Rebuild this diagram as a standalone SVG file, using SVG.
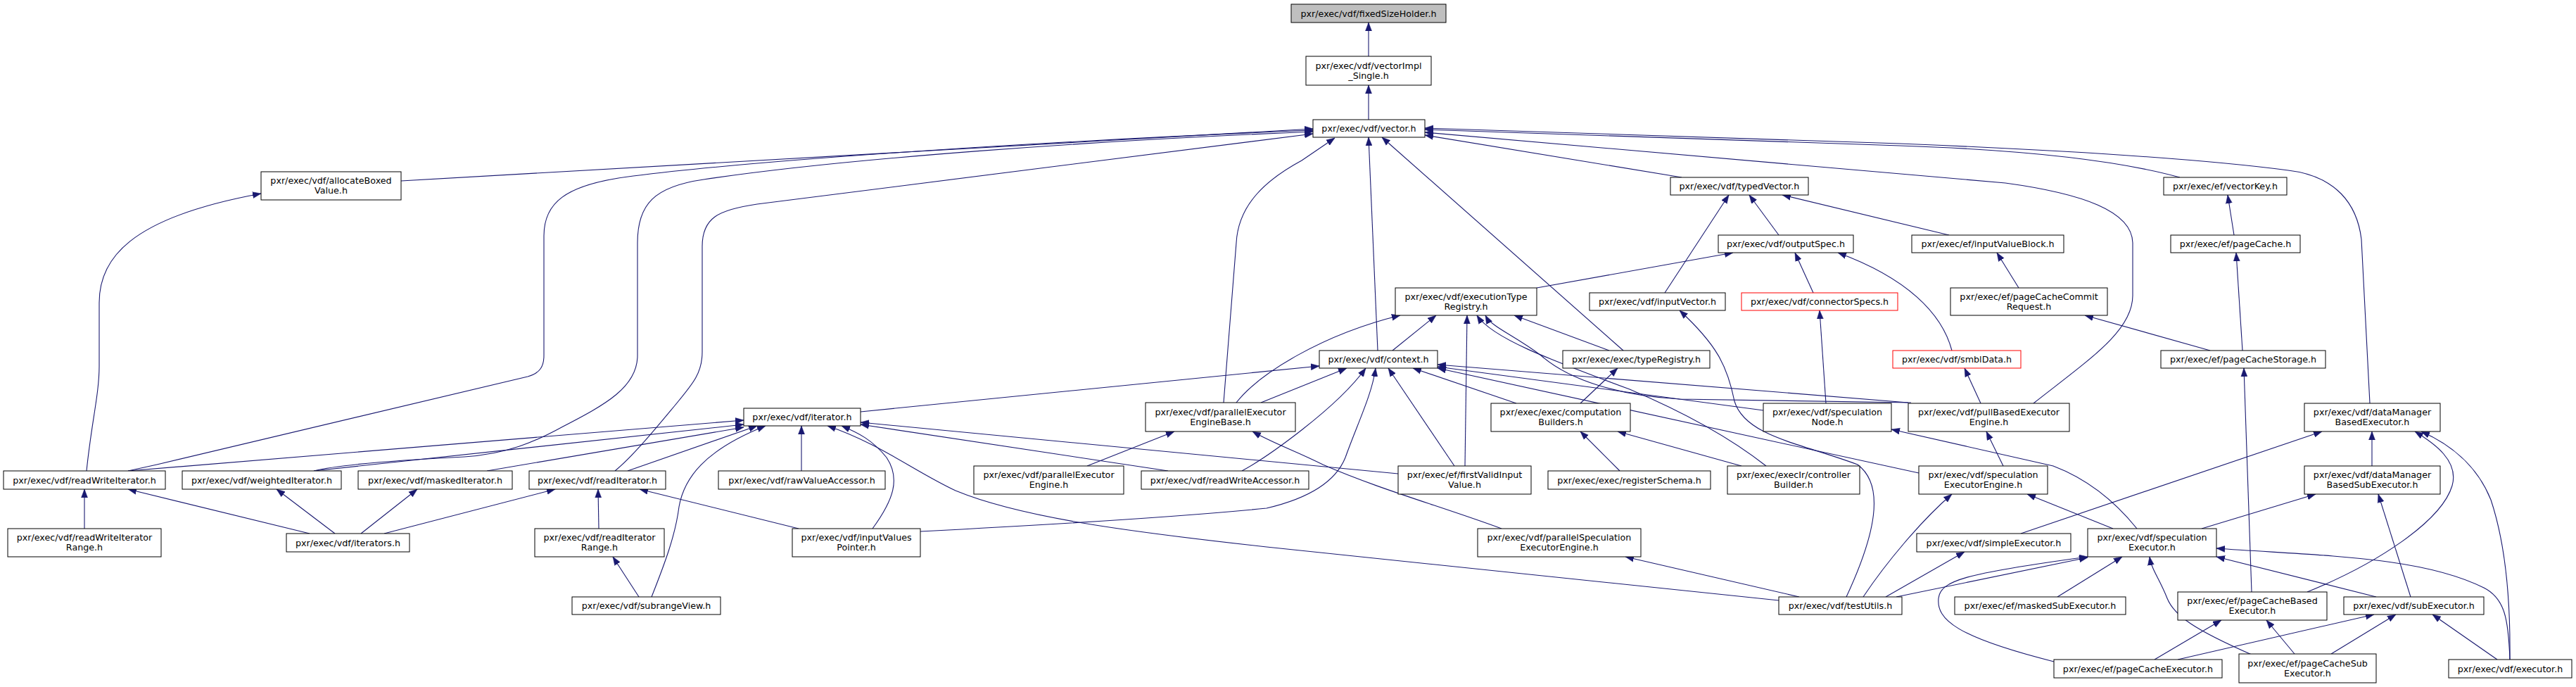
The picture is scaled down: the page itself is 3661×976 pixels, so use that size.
<svg xmlns="http://www.w3.org/2000/svg" width="3661" height="976" viewBox="0 0 3661 976">
<style>
.node rect{fill:#fff;stroke:#000;stroke-width:1}
.root rect{fill:#bfbfbf}
.trunc rect{stroke:#ff0000}
text{font-family:"DejaVu Sans",sans-serif;font-size:12.7px;text-anchor:middle;fill:#000}
#edges path{fill:none;stroke:#191970;stroke-width:1.1;marker-end:url(#ah)}
</style>
<defs>
<marker id="ah" markerWidth="12" markerHeight="10" refX="12" refY="5" orient="auto" markerUnits="userSpaceOnUse"><path d="M0,0.5 L12,5 L0,9.5 z" fill="#191970" stroke="#191970" stroke-width="0.5"/></marker>
</defs>
<rect width="3661" height="976" fill="#fff"/>
<g id="edges">
<path d="M1945,80 L1945,32"/>
<path d="M1945,170 L1945,121"/>
<path d="M570,257 L1866,183"/>
<path d="M182,669 L223,660 L750,535 C768,530 773,520 773,505 L773,335 C773,290 800,262 900,250 C1100,225 1500,200 1866,185"/>
<path d="M446,669 C490,658 600,652 660,649 C720,645 760,628 800,606 C860,575 906,550 906,505 L906,345 C906,290 930,265 1000,255 C1200,225 1550,200 1866,187"/>
<path d="M874,669 C900,648 935,605 960,575 C985,545 998,530 998,500 L998,350 C998,310 1020,298 1076,290 L1866,190"/>
<path d="M1739,572 L1757,345 C1760,290 1800,255 1850,228 L1897,196"/>
<path d="M1958,498 L1945,195"/>
<path d="M2307,498 L1964,195"/>
<path d="M2390,252 L2025,192"/>
<path d="M2890,573 C2970,510 3031,470 3031,420 L3031,345 C3030,300 2960,275 2850,260 L2025,188"/>
<path d="M3098,252 C3000,225 2850,212 2700,207 L2025,184"/>
<path d="M3368,573 L3356,340 C3350,290 3320,250 3252,242 C3100,222 2850,210 2700,204 L2025,182"/>
<path d="M2528,334 L2486,277"/>
<path d="M2366,416 L2457,277"/>
<path d="M2770,334 L2533,277"/>
<path d="M2184,409 L2463,359"/>
<path d="M2577,416 L2551,359"/>
<path d="M2774,498 C2760,445 2710,395 2612,359"/>
<path d="M3175,334 L3166,277"/>
<path d="M2869,409 L2838,359"/>
<path d="M3187,498 L3178,359"/>
<path d="M3141,498 L2963,448"/>
<path d="M1979,498 L2041,448"/>
<path d="M2287,498 L2152,448"/>
<path d="M1757,572 C1790,530 1880,475 1990,448"/>
<path d="M2082,662 L2085,448"/>
<path d="M2510,662 C2450,615 2380,580 2316,553 C2200,510 2120,480 2099,448"/>
<path d="M2716,572 L2387,567 C2300,562 2230,540 2190,505 C2150,475 2120,465 2111,448"/>
<path d="M1223,585 L1875,520"/>
<path d="M1792,572 L1914,523"/>
<path d="M1765,669 C1800,650 1900,580 1941,523"/>
<path d="M1308,755 C1500,745 1700,732 1800,722 C1860,708 1898,685 1912,650 C1930,600 1950,560 1955,523"/>
<path d="M2067,662 L1973,523"/>
<path d="M2155,573 L2008,523"/>
<path d="M2712,572 L2043,518"/>
<path d="M2506,583 L2043,521"/>
<path d="M2727,672 L2043,523"/>
<path d="M2246,573 L2299,523"/>
<path d="M2595,573 L2586,441"/>
<path d="M3037,751 C3000,705 2960,678 2918,662 L2688,610"/>
<path d="M2815,573 L2792,523"/>
<path d="M2847,662 L2823,613"/>
<path d="M2302,669 L2246,613"/>
<path d="M2475,662 L2299,613"/>
<path d="M1545,662 L1669,613"/>
<path d="M2134,751 C2050,720 1960,695 1880,660 C1840,640 1810,630 1780,613"/>
<path d="M182,669 L1057,597"/>
<path d="M446,669 L1057,603"/>
<path d="M692,669 L1057,607"/>
<path d="M892,669 L1076,605"/>
<path d="M926,848 C945,800 960,760 965,720 C972,680 1000,640 1088,605"/>
<path d="M1139,669 L1139,605"/>
<path d="M2528,853 L1800,777 C1600,755 1450,735 1358,697 C1300,670 1250,630 1176,605"/>
<path d="M1240,751 C1270,710 1280,680 1260,650 C1240,625 1220,615 1196,605"/>
<path d="M1660,669 L1223,603"/>
<path d="M1987,673 L1223,600"/>
<path d="M851,751 L850,695"/>
<path d="M546,758 L789,695"/>
<path d="M1135,751 L909,695"/>
<path d="M908,848 L871,791"/>
<path d="M120,751 L120,695"/>
<path d="M440,758 L182,695"/>
<path d="M476,758 L393,695"/>
<path d="M513,758 L593,695"/>
<path d="M123,669 C130,600 141,560 141,520 L141,430 C141,370 180,310 371,275"/>
<path d="M3003,751 L2881,702"/>
<path d="M2648,848 C2680,800 2730,740 2774,702"/>
<path d="M2872,758 L3300,613"/>
<path d="M3371,662 L3371,613"/>
<path d="M3279,841 C3380,800 3470,740 3485,690 C3495,655 3460,630 3432,613"/>
<path d="M3567,937 C3568,850 3560,770 3540,710 C3520,660 3480,630 3441,613"/>
<path d="M3129,751 L3291,702"/>
<path d="M3426,848 L3380,702"/>
<path d="M2695,848 L2967,792"/>
<path d="M2919,940 C2780,905 2752,880 2755,850 C2758,825 2790,815 2967,791"/>
<path d="M2924,848 L3016,791"/>
<path d="M3200,930 C3120,895 3090,875 3080,850 C3068,820 3058,810 3055,791"/>
<path d="M3377,848 L3150,791"/>
<path d="M3567,937 C3565,880 3560,850 3530,835 C3440,790 3300,790 3150,779"/>
<path d="M2680,848 L2792,784"/>
<path d="M3062,937 L3157,881"/>
<path d="M3261,929 L3221,881"/>
<path d="M3200,841 L3189,523"/>
<path d="M3095,937 L3374,873"/>
<path d="M3313,929 L3405,873"/>
<path d="M3549,937 L3457,873"/>
<path d="M2624,848 C2665,760 2680,690 2640,660 C2560,630 2480,620 2465,570 C2455,520 2440,490 2387,441"/>
<path d="M2557,848 L2310,791"/>
</g>
<g id="n0" class="node root"><rect x="1835" y="6" width="220" height="26"/><text x="1945" y="23.5">pxr/exec/vdf/fixedSizeHolder.h</text></g>
<g id="n1" class="node"><rect x="1856" y="80" width="178" height="41"/><text x="1945" y="97.5">pxr/exec/vdf/vectorImpl</text><text x="1945" y="111.5">_Single.h</text></g>
<g id="n2" class="node"><rect x="1866" y="170" width="159" height="25"/><text x="1945.5" y="187">pxr/exec/vdf/vector.h</text></g>
<g id="n3" class="node"><rect x="371" y="244" width="199" height="40"/><text x="470.5" y="261">pxr/exec/vdf/allocateBoxed</text><text x="470.5" y="275">Value.h</text></g>
<g id="n4" class="node"><rect x="2374" y="252" width="196" height="25"/><text x="2472" y="269">pxr/exec/vdf/typedVector.h</text></g>
<g id="n5" class="node"><rect x="3075" y="252" width="175" height="25"/><text x="3162.5" y="269">pxr/exec/ef/vectorKey.h</text></g>
<g id="n6" class="node"><rect x="2442" y="334" width="192" height="25"/><text x="2538" y="351">pxr/exec/vdf/outputSpec.h</text></g>
<g id="n7" class="node"><rect x="2717" y="334" width="216" height="25"/><text x="2825" y="351">pxr/exec/ef/inputValueBlock.h</text></g>
<g id="n8" class="node"><rect x="3085" y="334" width="184" height="25"/><text x="3177" y="351">pxr/exec/ef/pageCache.h</text></g>
<g id="n9" class="node"><rect x="1983" y="409" width="201" height="39"/><text x="2083.5" y="425.5">pxr/exec/vdf/executionType</text><text x="2083.5" y="439.5">Registry.h</text></g>
<g id="n10" class="node"><rect x="2259" y="416" width="193" height="25"/><text x="2355.5" y="433">pxr/exec/vdf/inputVector.h</text></g>
<g id="n11" class="node trunc"><rect x="2475" y="416" width="222" height="25"/><text x="2586" y="433">pxr/exec/vdf/connectorSpecs.h</text></g>
<g id="n12" class="node"><rect x="2772" y="409" width="223" height="39"/><text x="2883.5" y="425.5">pxr/exec/ef/pageCacheCommit</text><text x="2883.5" y="439.5">Request.h</text></g>
<g id="n13" class="node"><rect x="1875" y="498" width="168" height="25"/><text x="1959" y="515">pxr/exec/vdf/context.h</text></g>
<g id="n14" class="node"><rect x="2221" y="498" width="209" height="25"/><text x="2325.5" y="515">pxr/exec/exec/typeRegistry.h</text></g>
<g id="n15" class="node trunc"><rect x="2690" y="498" width="182" height="25"/><text x="2781" y="515">pxr/exec/vdf/smblData.h</text></g>
<g id="n16" class="node"><rect x="3071" y="498" width="234" height="25"/><text x="3188" y="515">pxr/exec/ef/pageCacheStorage.h</text></g>
<g id="n17" class="node"><rect x="1057" y="580" width="166" height="25"/><text x="1140" y="597">pxr/exec/vdf/iterator.h</text></g>
<g id="n18" class="node"><rect x="1628" y="572" width="213" height="41"/><text x="1734.5" y="589.5">pxr/exec/vdf/parallelExecutor</text><text x="1734.5" y="603.5">EngineBase.h</text></g>
<g id="n19" class="node"><rect x="2119" y="573" width="198" height="40"/><text x="2218" y="590">pxr/exec/exec/computation</text><text x="2218" y="604">Builders.h</text></g>
<g id="n20" class="node"><rect x="2506" y="573" width="182" height="40"/><text x="2597" y="590">pxr/exec/vdf/speculation</text><text x="2597" y="604">Node.h</text></g>
<g id="n21" class="node"><rect x="2712" y="573" width="229" height="40"/><text x="2826.5" y="590">pxr/exec/vdf/pullBasedExecutor</text><text x="2826.5" y="604">Engine.h</text></g>
<g id="n22" class="node"><rect x="3275" y="573" width="193" height="40"/><text x="3371.5" y="590">pxr/exec/vdf/dataManager</text><text x="3371.5" y="604">BasedExecutor.h</text></g>
<g id="n23" class="node"><rect x="5" y="669" width="230" height="26"/><text x="120" y="686.5">pxr/exec/vdf/readWriteIterator.h</text></g>
<g id="n24" class="node"><rect x="259" y="669" width="226" height="26"/><text x="372" y="686.5">pxr/exec/vdf/weightedIterator.h</text></g>
<g id="n25" class="node"><rect x="509" y="669" width="219" height="26"/><text x="618.5" y="686.5">pxr/exec/vdf/maskedIterator.h</text></g>
<g id="n26" class="node"><rect x="752" y="669" width="194" height="26"/><text x="849" y="686.5">pxr/exec/vdf/readIterator.h</text></g>
<g id="n27" class="node"><rect x="1021" y="669" width="237" height="26"/><text x="1139.5" y="686.5">pxr/exec/vdf/rawValueAccessor.h</text></g>
<g id="n28" class="node"><rect x="1384" y="662" width="213" height="40"/><text x="1490.5" y="679">pxr/exec/vdf/parallelExecutor</text><text x="1490.5" y="693">Engine.h</text></g>
<g id="n29" class="node"><rect x="1622" y="669" width="238" height="26"/><text x="1741" y="686.5">pxr/exec/vdf/readWriteAccessor.h</text></g>
<g id="n30" class="node"><rect x="1987" y="662" width="189" height="40"/><text x="2081.5" y="679">pxr/exec/ef/firstValidInput</text><text x="2081.5" y="693">Value.h</text></g>
<g id="n31" class="node"><rect x="2200" y="669" width="231" height="26"/><text x="2315.5" y="686.5">pxr/exec/exec/registerSchema.h</text></g>
<g id="n32" class="node"><rect x="2455" y="662" width="188" height="40"/><text x="2549" y="679">pxr/exec/execIr/controller</text><text x="2549" y="693">Builder.h</text></g>
<g id="n33" class="node"><rect x="2727" y="662" width="183" height="40"/><text x="2818.5" y="679">pxr/exec/vdf/speculation</text><text x="2818.5" y="693">ExecutorEngine.h</text></g>
<g id="n34" class="node"><rect x="3275" y="662" width="193" height="40"/><text x="3371.5" y="679">pxr/exec/vdf/dataManager</text><text x="3371.5" y="693">BasedSubExecutor.h</text></g>
<g id="n35" class="node"><rect x="11" y="751" width="218" height="40"/><text x="120" y="768">pxr/exec/vdf/readWriteIterator</text><text x="120" y="782">Range.h</text></g>
<g id="n36" class="node"><rect x="407" y="758" width="175" height="26"/><text x="494.5" y="775.5">pxr/exec/vdf/iterators.h</text></g>
<g id="n37" class="node"><rect x="760" y="751" width="184" height="40"/><text x="852" y="768">pxr/exec/vdf/readIterator</text><text x="852" y="782">Range.h</text></g>
<g id="n38" class="node"><rect x="1126" y="751" width="182" height="40"/><text x="1217" y="768">pxr/exec/vdf/inputValues</text><text x="1217" y="782">Pointer.h</text></g>
<g id="n39" class="node"><rect x="2100" y="751" width="232" height="40"/><text x="2216" y="768">pxr/exec/vdf/parallelSpeculation</text><text x="2216" y="782">ExecutorEngine.h</text></g>
<g id="n40" class="node"><rect x="2724" y="758" width="219" height="26"/><text x="2833.5" y="775.5">pxr/exec/vdf/simpleExecutor.h</text></g>
<g id="n41" class="node"><rect x="2967" y="751" width="183" height="40"/><text x="3058.5" y="768">pxr/exec/vdf/speculation</text><text x="3058.5" y="782">Executor.h</text></g>
<g id="n42" class="node"><rect x="813" y="848" width="211" height="25"/><text x="918.5" y="865">pxr/exec/vdf/subrangeView.h</text></g>
<g id="n43" class="node"><rect x="2528" y="848" width="175" height="25"/><text x="2615.5" y="865">pxr/exec/vdf/testUtils.h</text></g>
<g id="n44" class="node"><rect x="2778" y="848" width="243" height="25"/><text x="2899.5" y="865">pxr/exec/ef/maskedSubExecutor.h</text></g>
<g id="n45" class="node"><rect x="3095" y="841" width="212" height="40"/><text x="3201" y="858">pxr/exec/ef/pageCacheBased</text><text x="3201" y="872">Executor.h</text></g>
<g id="n46" class="node"><rect x="3331" y="848" width="199" height="25"/><text x="3430.5" y="865">pxr/exec/vdf/subExecutor.h</text></g>
<g id="n47" class="node"><rect x="2919" y="937" width="239" height="26"/><text x="3038.5" y="954.5">pxr/exec/ef/pageCacheExecutor.h</text></g>
<g id="n48" class="node"><rect x="3182" y="929" width="195" height="41"/><text x="3279.5" y="946.5">pxr/exec/ef/pageCacheSub</text><text x="3279.5" y="960.5">Executor.h</text></g>
<g id="n49" class="node"><rect x="3480" y="937" width="175" height="26"/><text x="3567.5" y="954.5">pxr/exec/vdf/executor.h</text></g>
</svg>
